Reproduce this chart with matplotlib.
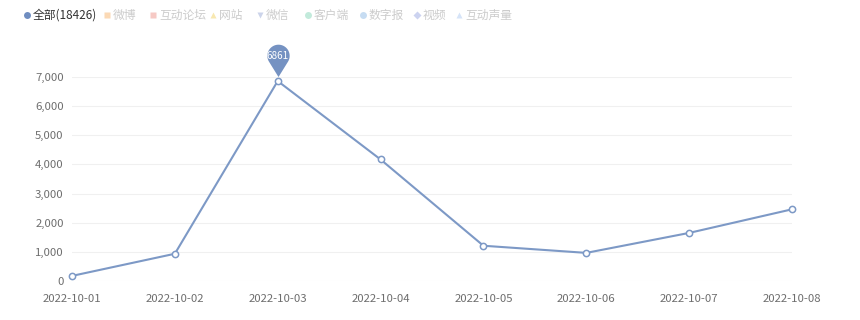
import numpy as np
import matplotlib.pyplot as plt
from matplotlib.path import Path

plt.rcParams['font.family'] = ['Noto Sans CJK SC', 'DejaVu Sans']

dates = ['2022-10-01', '2022-10-02', '2022-10-03', '2022-10-04',
         '2022-10-05', '2022-10-06', '2022-10-07', '2022-10-08']
counts = [175, 935, 6861, 4170, 1210, 965, 1650, 2460]
yticks = [0, 1000, 2000, 3000, 4000, 5000, 6000, 7000]
legend_names = ['全部(18426)', '微博', '互动论坛', '网站', '微信', '客户端', '数字报', '视频', '互动声量']
legend_marks = ['o', 's', 's', '^', 'v', 'o', 'o', 'D', '^']
legend_colors = ['#6f8dc0', '#fbd9b5', '#f6c9c4', '#f8e8b0', '#ccd4ea',
                 '#c2eadb', '#c6dcf2', '#ccd3f0', '#d6e4f8']
legend_x = [27, 107, 153, 213, 260, 308, 363, 417, 459]

line_color = '#7d99c6'

fig = plt.figure(figsize=(8.6, 3.2), dpi=100)
ax = fig.add_axes([72/860, 39/320, 720/860, 204/320])

x = np.arange(len(dates))
ax.plot(x, counts, color=line_color, lw=1.5, marker='o', ms=4.5,
        mfc='white', mec=line_color, mew=1.1, zorder=3, clip_on=False)

# pin marker on the max point (units of the circle radius, tip near the point)
r = 1.0
cy = 2.3
ty = 0.4
d = cy - ty
th = np.degrees(np.arccos(r / d))
ang = np.radians(np.linspace(-90 + th, 270 - th, 60))
verts = [(0, ty)] + [(r*np.cos(a), cy + r*np.sin(a)) for a in ang] + [(0, ty)]
codes = [Path.MOVETO] + [Path.LINETO]*(len(verts)-2) + [Path.CLOSEPOLY]
pin = Path(verts, codes)
imax = int(np.argmax(counts))
ax.plot([imax], [counts[imax]], marker=pin, ms=53, color='#7592c2', mec='none',
        zorder=4, clip_on=False)
ax.annotate(str(counts[imax]), (imax, counts[imax]), xytext=(0, 25), textcoords='offset pixels',
            ha='center', va='center', color='white', fontsize=7.2, zorder=5,
            annotation_clip=False)

ax.set_xlim(0, len(dates)-1)
ax.set_ylim(0, 7000)
ax.set_yticks(yticks)
ax.set_yticklabels([f'{v:,}' for v in yticks])
ax.set_xticks(x)
ax.set_xticklabels(dates)
ax.tick_params(length=0, labelsize=8.2, colors='#6e6e6e')
ax.tick_params(axis='y', pad=6)
ax.tick_params(axis='x', pad=9)
for s in ax.spines.values():
    s.set_visible(False)
ax.grid(axis='y', color='#f0f0f0', lw=0.8)
ax.set_axisbelow(True)
ax.patch.set_alpha(0)

# legend row
for i, name in enumerate(legend_names):
    fx = legend_x[i] / 860
    fy = 1 - 15/320
    fig.lines.append(plt.Line2D([fx], [fy], marker=legend_marks[i], ms=4 if legend_marks[i] == 'D' else 5,
                                color=legend_colors[i], mec='none', ls='none',
                                transform=fig.transFigure))
    fig.text(fx + 6/860, fy, name, ha='left', va='center', fontsize=8.5,
             color='#333333' if i == 0 else '#cccccc')

fig.savefig('out.png', dpi=100)
